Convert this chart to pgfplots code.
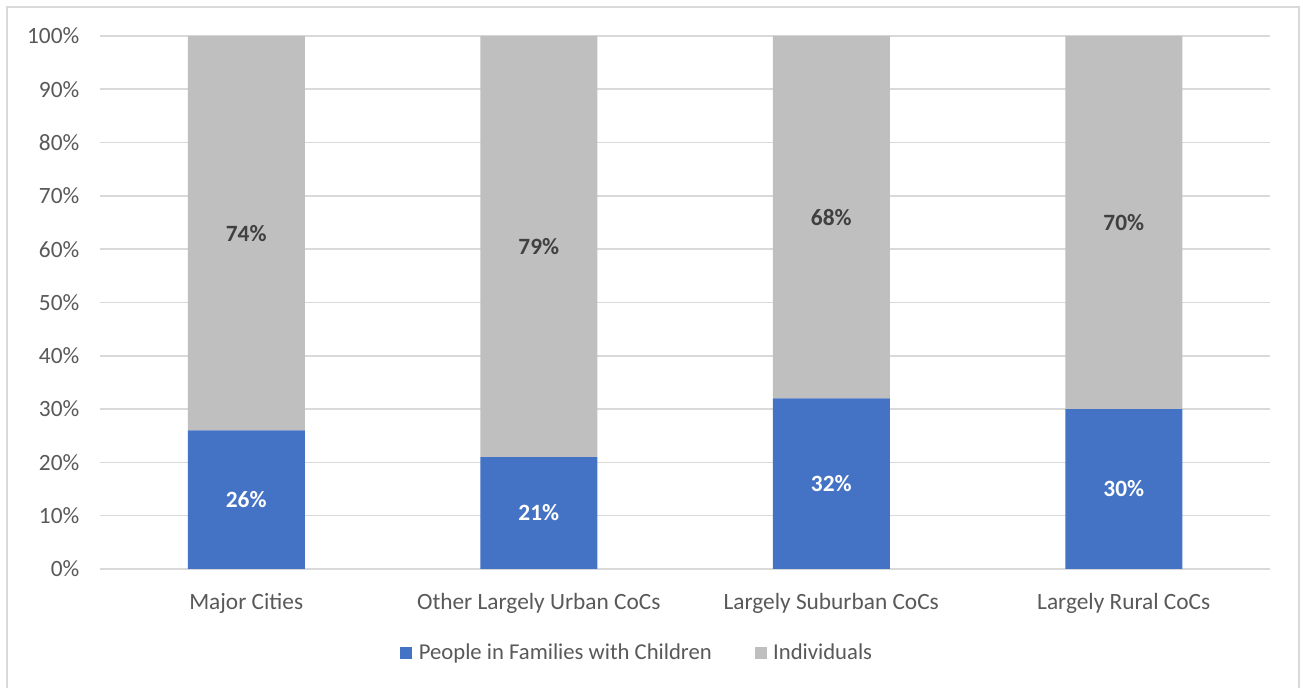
\documentclass[border=0pt]{standalone}
\usepackage{pgfplots}
\pgfplotsset{compat=1.18}
\usepackage{fontspec}
\setmainfont{Carlito}
\definecolor{famblue}{HTML}{4472C4}
\definecolor{indgray}{HTML}{BFBFBF}
\definecolor{gridgray}{HTML}{D9D9D9}
\definecolor{ticktext}{HTML}{595959}
\definecolor{labeldark}{HTML}{404040}

\begin{document}
\begin{tikzpicture}
\useasboundingbox (0,0) rectangle (977.25pt,516pt);
\fill[white] (0,0) rectangle (977.25pt,516pt);
% chart frame
\draw[gridgray, line width=1.2pt] (5.25pt,-5pt) -- (5.25pt,510.75pt) -- (974.25pt,510.75pt) -- (974.25pt,-5pt);
\begin{axis}[
  at={(75pt,89.25pt)}, anchor=south west,
  scale only axis, width=877.5pt, height=399.75pt,
  ybar stacked, bar width=0.4,
  xmin=-0.5, xmax=3.5, ymin=0, ymax=100,
  xtick={0,1,2,3},
  xticklabels={Major Cities, Other Largely Urban CoCs, Largely Suburban CoCs, Largely Rural CoCs},
  ytick={0,10,...,100},
  yticklabel={\pgfmathprintnumber{\tick}\%},
  axis line style={draw=none},
  major tick length=0pt,
  ymajorgrids, grid style={gridgray, line width=1.2pt},
  /pgf/number format/assume math mode=true,
  tick label style={font=\fontsize{17.5}{20}\selectfont, text=ticktext},
  yticklabel style={xshift=-12pt},
  xticklabel style={yshift=-14.5pt},
  nodes near coords={\pgfmathprintnumber{\pgfplotspointmeta}\%},
  point meta=rawy,
  every node near coord/.append style={anchor=center,
    font=\bfseries\fontsize{17.5}{20}\selectfont},
  legend columns=2,
  legend style={at={(rel axis cs:0.4594,-0.1576)}, anchor=center, draw=none,
    fill=none, font=\fontsize{17}{20}\selectfont, text=ticktext,
    /tikz/every even column/.append style={column sep=30pt},
    /tikz/every odd column/.append style={column sep=3pt}},
  legend image code/.code={\fill[#1] (0pt,-4.5pt) rectangle (9pt,4.5pt);},
]
\addplot[fill=famblue, draw=none, nodes near coords style={text=white}]
  coordinates {(0,26) (1,21) (2,32) (3,30)};
\addplot[fill=indgray, draw=none, nodes near coords style={text=labeldark}]
  coordinates {(0,74) (1,79) (2,68) (3,70)};
\legend{People in Families with Children, Individuals}
\end{axis}
\end{tikzpicture}
\end{document}
